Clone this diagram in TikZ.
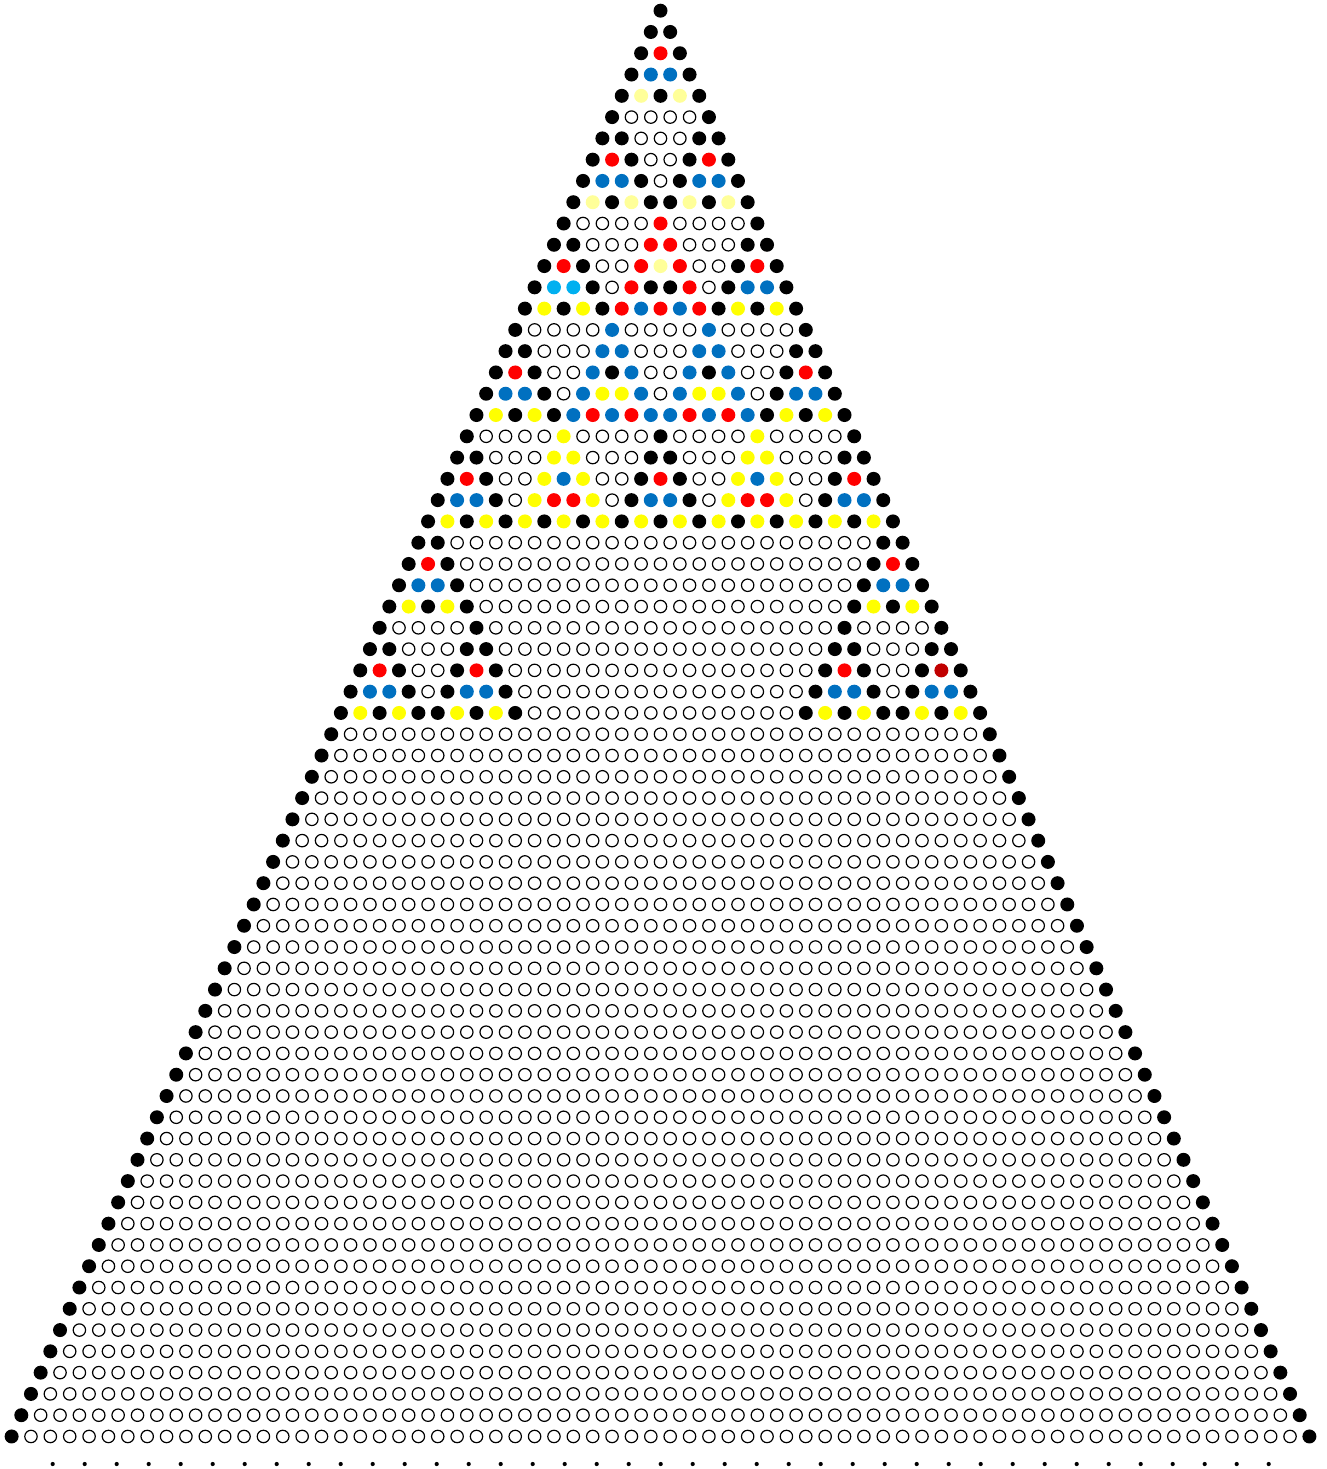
\documentclass[tikz,border=0pt]{standalone}
\definecolor{cRed}{HTML}{FF0000}
\definecolor{cBlue}{HTML}{0070C0}
\definecolor{cCyan}{HTML}{00B0F0}
\definecolor{cYel}{HTML}{FFFF00}
\definecolor{cPale}{HTML}{FFFF99}
\definecolor{cDark}{HTML}{C00000}
\tikzset{
  cell/.style={circle,inner sep=0pt,minimum size=14pt,draw=none},
  cell0/.style={circle,inner sep=0pt,minimum size=12.4pt,draw=black,line width=1.2pt,fill=white},
  cell1/.style={cell,fill=black},
  cell2/.style={cell,fill=cRed},
  cell3/.style={cell,fill=cBlue},
  cell4/.style={cell,fill=cYel},
  cellP/.style={cell,fill=cPale},
  cellC/.style={cell,fill=cCyan},
  cellD/.style={cell,fill=cDark},
  tickdot/.style={circle,inner sep=0pt,minimum size=4.2pt,fill=black,draw=none}
}
\def\btab{{1,0,0,0,0,1,1,0,0,0,1,2,1,0,0,1,3,3,1,0,1,4,6,4,1}}
\newcommand\lucasv[2]{\pgfmathtruncatemacro\cv{mod(\btab[5*div(#1,5)+div(#2,5)]*\btab[5*mod(#1,5)+mod(#2,5)],5)}}
\begin{document}
\begin{tikzpicture}[x=1pt,y=-1pt]
\useasboundingbox (0,0) rectangle (1327,1469);
\foreach \n in {0,...,67}{
 \foreach \k in {0,...,\n}{
  \def\cv{0}%
  \ifnum\n<25\relax
    \lucasv{\n}{\k}%
  \else
    \ifnum\n<34\relax
      \pgfmathtruncatemacro\jj{\n-24}%
      \pgfmathtruncatemacro\kr{\k-24}%
      \ifnum\k>\jj\relax
        \ifnum\kr<0\relax \def\cv{0}\else \lucasv{\jj}{\kr}\fi
      \else
        \lucasv{\jj}{\k}%
      \fi
    \else
      \ifnum\k=0\relax \def\cv{1}\fi
      \ifnum\k=\n\relax \def\cv{1}\fi
    \fi
  \fi
  \edef\cs{cell\cv}%
  \ifnum\cv=4\relax
    \ifnum\n=4\relax \def\cs{cellP}\fi
    \ifnum\n=9\relax \def\cs{cellP}\fi
    \ifnum\n=12\relax \def\cs{cellP}\fi
  \fi
  \ifnum\n=13\relax \ifnum\k<3\relax \ifnum\cv=3\relax \def\cs{cellC}\fi\fi\fi
  \ifnum\n=31\relax \ifnum\k=30\relax \def\cs{cellD}\fi\fi
  \node[\cs] (c-\n-\k) at ({660.5+(2*\k-\n)*9.685},{10.7+\n*21.28}) {};
 }
}
\foreach \i in {0,...,38}{
  \node[tickdot] (t-\i) at ({52.7+32*\i},1464) {};
}
\end{tikzpicture}
\end{document}
